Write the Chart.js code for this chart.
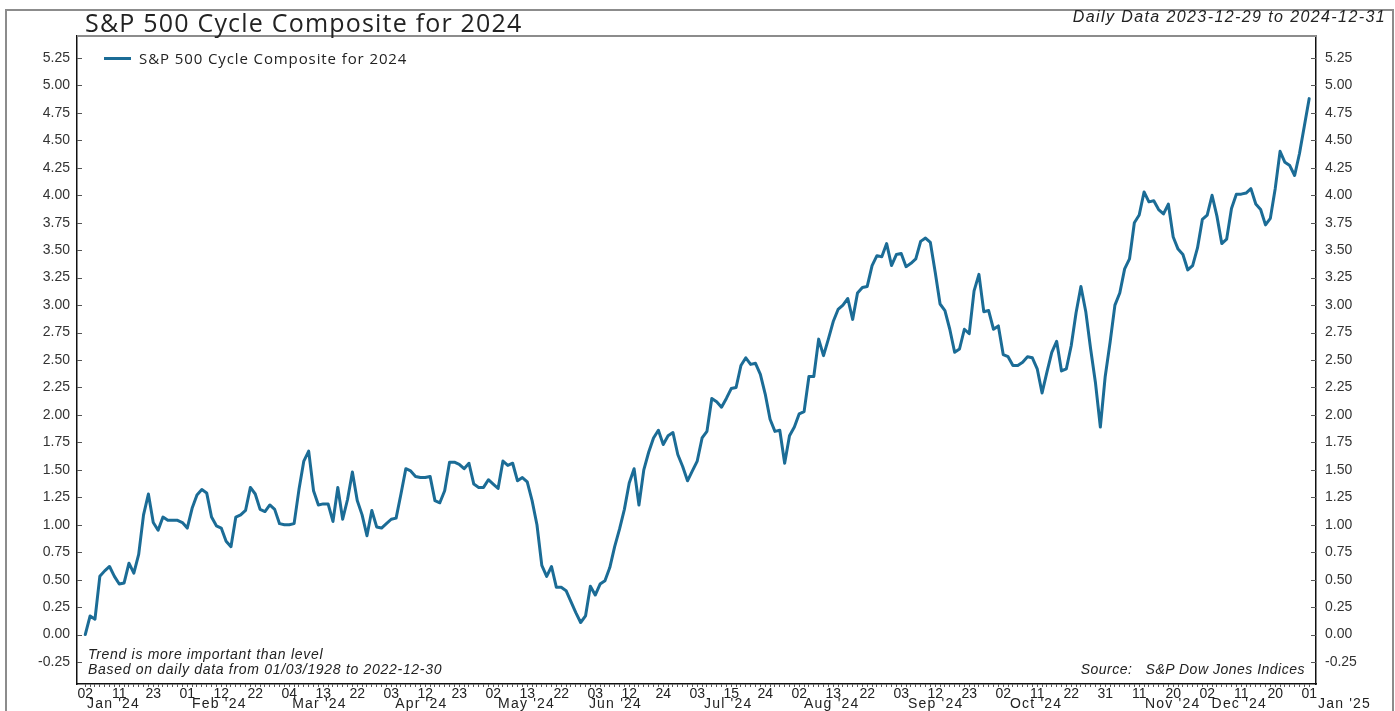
<!DOCTYPE html>
<html>
<head>
<meta charset="utf-8">
<script src="https://cdn.jsdelivr.net/npm/chart.js@4.4.1/dist/chart.umd.min.js"></script>
<style>
  html, body { margin: 0; padding: 0; background: #fff; overflow: hidden; }
  #wrap { position: relative; width: 1395px; height: 711px; }
  #frame { position: absolute; left: 5px; top: 9px; width: 1389px; height: 720px; border: 2px solid #8c8c8c; box-sizing: border-box; pointer-events: none; }
  .txt { position: absolute; white-space: nowrap; color: #222; pointer-events: none; }
  #title { left: 85px; top: 8px; font: 25px "Open Sans", sans-serif; letter-spacing: 1.2px; line-height: 28px; }
  #sub { right: 9px; top: 8px; font: italic 16px "Liberation Sans", Arial, sans-serif; letter-spacing: 1.4px; line-height: 18px; }
  #legend { left: 104px; top: 49px; font: 15px "Open Sans", sans-serif; letter-spacing: 0.9px; line-height: 18px; }
  #legend span.sw { display: inline-block; width: 27px; height: 3px; background: #1b6c96; vertical-align: middle; margin-right: 8px; position: relative; top: -1px; }
  #note1 { left: 88px; top: 646px; font: italic 14px "Liberation Sans", Arial, sans-serif; letter-spacing: 0.7px; line-height: 16px; }
  #note2 { left: 88px; top: 661px; font: italic 14px "Liberation Sans", Arial, sans-serif; letter-spacing: 0.7px; line-height: 16px; }
  #source { right: 90px; top: 661px; font: italic 14px "Liberation Sans", Arial, sans-serif; letter-spacing: 0.5px; line-height: 16px; }
</style>
</head>
<body>
<div id="wrap">
  <canvas id="c" width="1395" height="711"></canvas>
  <div id="frame"></div>
  <div class="txt" id="title">S&amp;P 500 Cycle Composite for 2024</div>
  <div class="txt" id="sub">Daily Data 2023-12-29 to 2024-12-31</div>
  <div class="txt" id="legend"><span class="sw"></span>S&amp;P 500 Cycle Composite for 2024</div>
  <div class="txt" id="note1">Trend is more important than level</div>
  <div class="txt" id="note2">Based on daily data from 01/03/1928 to 2022-12-30</div>
  <div class="txt" id="source">Source:&nbsp;&nbsp;&nbsp;S&amp;P Dow Jones Indices</div>
</div>
<script>
// Trading-day values of the composite, starting 2023-12-29 (index 0)
const dayValues = [
  0.00, 0.17, 0.14, 0.53, 0.58, 0.62, 0.53, 0.46, 0.47, 0.65,
  0.56, 0.73, 1.09, 1.28, 1.02, 0.95, 1.07, 1.04, 1.04, 1.04,
  1.02, 0.97, 1.15, 1.27, 1.32, 1.29, 1.07, 0.99, 0.97, 0.85,
  0.80, 1.07, 1.09, 1.13, 1.34, 1.28, 1.14, 1.12, 1.18, 1.14,
  1.01, 1.00, 1.00, 1.01, 1.32, 1.58, 1.67, 1.31, 1.18, 1.19,
  1.19, 1.03, 1.34, 1.05, 1.23, 1.48, 1.22, 1.09, 0.90, 1.13,
  0.98, 0.97, 1.01, 1.05, 1.06, 1.28, 1.51, 1.49, 1.44, 1.43,
  1.43, 1.44, 1.22, 1.20, 1.31, 1.57, 1.57, 1.55, 1.51, 1.56,
  1.37, 1.34, 1.34, 1.41, 1.37, 1.33, 1.58, 1.54, 1.56, 1.40,
  1.43, 1.39, 1.22, 1.00, 0.63, 0.53, 0.62, 0.43, 0.43, 0.40,
  0.30, 0.20, 0.11, 0.17, 0.44, 0.36, 0.46, 0.49, 0.61, 0.80,
  0.96, 1.14, 1.38, 1.51, 1.18, 1.50, 1.66, 1.79, 1.86, 1.73,
  1.81, 1.84, 1.64, 1.53, 1.40, 1.49, 1.58, 1.79, 1.85, 2.15,
  2.12, 2.07, 2.15, 2.24, 2.25, 2.45, 2.52, 2.46, 2.47, 2.37,
  2.19, 1.96, 1.85, 1.86, 1.56, 1.81, 1.89, 2.01, 2.03, 2.35,
  2.35, 2.69, 2.54, 2.69, 2.85, 2.96, 3.00, 3.06, 2.87, 3.11,
  3.16, 3.17, 3.36, 3.45, 3.44, 3.56, 3.36, 3.46, 3.47, 3.35,
  3.38, 3.42, 3.58, 3.61, 3.57, 3.30, 3.01, 2.95, 2.78, 2.57,
  2.60, 2.78, 2.74, 3.13, 3.28, 2.94, 2.95, 2.78, 2.81, 2.55,
  2.53, 2.45, 2.45, 2.48, 2.53, 2.52, 2.42, 2.20, 2.39, 2.57,
  2.67, 2.40, 2.42, 2.63, 2.93, 3.17, 2.94, 2.60, 2.29, 1.89,
  2.35, 2.66, 3.00, 3.11, 3.33, 3.42, 3.75, 3.82, 4.03, 3.94,
  3.95, 3.87, 3.83, 3.92, 3.62, 3.51, 3.46, 3.32, 3.36, 3.52,
  3.78, 3.82, 4.00, 3.81, 3.56, 3.60, 3.88, 4.01, 4.01, 4.02,
  4.06, 3.92, 3.87, 3.73, 3.79, 4.06, 4.40, 4.30, 4.27, 4.18,
  4.38, 4.63, 4.88
];

// Day labels shown every 7 trading days
const dayTickLabels = ['02','11','23','01','12','22','04','13','22','03','12','23',
  '02','13','22','03','12','24','03','15','24','02','13','22','03','12','23',
  '02','11','22','31','11','20','02','11','20','01'];
const dayTickStep = 7;

// Month labels and the trading-day position where each starts
const monthLabels = ["Jan '24","Feb '24","Mar '24","Apr '24","May '24","Jun '24",
  "Jul '24","Aug '24","Sep '24","Oct '24","Nov '24","Dec '24","Jan '25"];
const monthLabelAt = [0.35, 21.97, 42.6, 63.8, 85.0, 103.7, 127.4, 148.0, 169.4, 190.4, 218.2, 231.9, 253.8];

const yTickValues = [-0.25, 0.00, 0.25, 0.50, 0.75, 1.00, 1.25, 1.50, 1.75, 2.00, 2.25,
  2.50, 2.75, 3.00, 3.25, 3.50, 3.75, 4.00, 4.25, 4.50, 4.75, 5.00, 5.25];

const tickFont = { family: '"Liberation Sans", Arial, sans-serif', size: 14 };
const LINE = '#1b6c96';

const decorPlugin = {
  id: 'decor',
  afterDraw(chart) {
    const ctx = chart.ctx;
    const a = chart.chartArea;
    const ys = chart.scales.y;
    const xs = chart.scales.x;
    ctx.save();
    // top border of plot
    ctx.strokeStyle = '#8c8c8c';
    ctx.lineWidth = 2;
    ctx.beginPath();
    ctx.moveTo(a.left, a.top);
    ctx.lineTo(a.right, a.top);
    ctx.stroke();
    // inner tick marks on both y axes
    ctx.strokeStyle = '#555';
    ctx.lineWidth = 1;
    yTickValues.forEach(v => {
      const py = Math.round(ys.getPixelForValue(v)) + 0.5;
      ctx.beginPath();
      ctx.moveTo(a.left, py); ctx.lineTo(a.left + 5, py);
      ctx.moveTo(a.right - 5, py); ctx.lineTo(a.right, py);
      ctx.stroke();
    });
    // month labels under day labels
    ctx.fillStyle = '#222';
    ctx.font = '14px "Liberation Sans", Arial, sans-serif';
    if ('letterSpacing' in ctx) ctx.letterSpacing = '1.2px';
    ctx.textAlign = 'left';
    ctx.textBaseline = 'middle';
    monthLabels.forEach((m, i) => {
      ctx.fillText(m, xs.getPixelForValue(monthLabelAt[i]), a.bottom + 20);
    });
    ctx.restore();
  }
};

const yAxisCommon = (pos, width, pad) => ({
  type: 'linear',
  position: pos,
  min: -0.45,
  max: 5.45,
  afterBuildTicks: s => { s.ticks = yTickValues.map(v => ({ value: v })); },
  afterFit: s => { s.width = width; },
  ticks: { callback: v => Number(v).toFixed(2), padding: pad, font: tickFont, color: '#333' },
  grid: { display: false, drawTicks: false },
  border: { display: true, color: '#111', width: 1.5 }
});

new Chart(document.getElementById('c'), {
  type: 'line',
  data: {
    datasets: [{
      label: 'S&P 500 Cycle Composite for 2024',
      data: dayValues.map((v, i) => ({ x: i, y: v })),
      borderColor: LINE,
      backgroundColor: LINE,
      borderWidth: 3,
      pointRadius: 0,
      tension: 0,
      borderJoinStyle: 'round',
      borderCapStyle: 'round',
      yAxisID: 'y'
    }]
  },
  options: {
    responsive: false,
    animation: false,
    layout: { padding: { top: 36, left: 0, right: 0, bottom: 0 } },
    plugins: { legend: { display: false }, title: { display: false }, tooltip: { enabled: false } },
    scales: {
      x: {
        type: 'linear',
        min: -1.7,
        max: 253.4,
        afterBuildTicks: s => { s.ticks = dayValues.map((_, i) => ({ value: i })); },
        afterFit: s => { s.height = 27; },
        ticks: {
          autoSkip: false, maxRotation: 0, minRotation: 0, padding: -1,
          font: tickFont, color: '#222',
          callback: v => (v % dayTickStep === 0 ? dayTickLabels[v / dayTickStep] : '')
        },
        grid: { drawOnChartArea: false, drawTicks: true, tickLength: 3, color: '#555', lineWidth: 1 },
        border: { display: true, color: '#111', width: 1.5 }
      },
      y: yAxisCommon('left', 77, 7),
      y2: yAxisCommon('right', 79, 9)
    }
  },
  plugins: [decorPlugin]
});
</script>
</body>
</html>
